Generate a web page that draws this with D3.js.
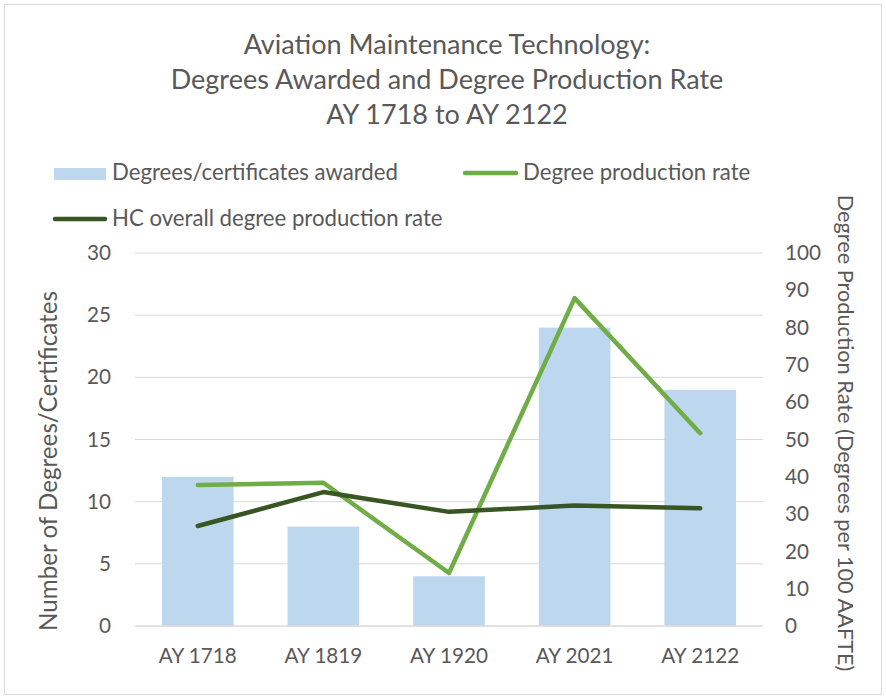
<!DOCTYPE html>
<html>
<head>
<meta charset="utf-8">
<script src="https://cdn.jsdelivr.net/npm/d3@7"></script>
<style>
  body { margin: 0; background: #fff; }
  text { font-family: Lato, "Open Sans", sans-serif; fill: #595959; }
</style>
</head>
<body>
<script>
var width = 886;
var height = 697;

// data
var years = ["AY 1718", "AY 1819", "AY 1920", "AY 2021", "AY 2122"];
var awarded = [12, 8, 4, 24, 19];
var rate = [37.8, 38.4, 14.2, 87.9, 51.7];
var hcRate = [26.8, 35.9, 30.6, 32.3, 31.6];
var leftTicks = [0, 5, 10, 15, 20, 25, 30];
var rightTicks = [0, 10, 20, 30, 40, 50, 60, 70, 80, 90, 100];
var titleLines = ["Aviation Maintenance Technology:", "Degrees Awarded and Degree Production Rate", "AY 1718 to AY 2122"];

var barColor = "#bdd7ee";
var rateColor = "#70ad47";
var hcColor = "#375623";

var plot = { left: 135, right: 763, top: 253, bottom: 626 };

var svg = d3.select("body")
    .append("svg")
    .attr("width", width)
    .attr("height", height);

// pick a font size so that a sample string spans the width seen in the reference
function fitSize(sample, target) {
    var t = svg.append("text").attr("font-size", "20px").text(sample);
    var w = t.node().getComputedTextLength();
    t.remove();
    return 20 * target / w;
}

var titleSize = fitSize(titleLines[1], 553);
var legendSize = fitSize("Degrees/certificates awarded", 286);
var tickSize = fitSize("AY 1718", 78);
var leftTitleSize = fitSize("Number of Degrees/Certificates", 340);
var rightTitleSize = fitSize("Degree Production Rate (Degrees per 100 AAFTE)", 477);

svg.append("rect")
    .attr("x", 4.5).attr("y", 4.5)
    .attr("width", 877).attr("height", 690)
    .attr("fill", "#fff")
    .attr("stroke", "#d9d9d9");

var x = d3.scaleBand()
    .domain(years)
    .range([plot.left, plot.right])
    .paddingInner(0.43)
    .paddingOuter(0.215);

var yL = d3.scaleLinear().domain([0, 30]).range([plot.bottom, plot.top]);
var yR = d3.scaleLinear().domain([0, 100]).range([plot.bottom, plot.top]);

// gridlines
svg.append("g")
    .selectAll("line")
    .data(leftTicks.slice(1))
    .enter()
    .append("line")
    .attr("x1", plot.left).attr("x2", plot.right)
    .attr("y1", function(d) { return yL(d); })
    .attr("y2", function(d) { return yL(d); })
    .attr("stroke", "#d9d9d9")
    .attr("stroke-width", 1);

// bars
svg.append("g")
    .selectAll("rect")
    .data(awarded)
    .enter()
    .append("rect")
    .attr("x", function(d, i) { return x(years[i]); })
    .attr("width", x.bandwidth())
    .attr("y", function(d) { return yL(d); })
    .attr("height", function(d) { return yL(0) - yL(d); })
    .attr("fill", barColor);

// baseline
svg.append("line")
    .attr("x1", plot.left).attr("x2", plot.right)
    .attr("y1", yL(0)).attr("y2", yL(0))
    .attr("stroke", "#d9d9d9")
    .attr("stroke-width", 1.5);

var line = d3.line()
    .x(function(d, i) { return x(years[i]) + x.bandwidth() / 2; })
    .y(function(d) { return yR(d); });

svg.append("path")
    .datum(rate)
    .attr("d", line)
    .attr("fill", "none")
    .attr("stroke", rateColor)
    .attr("stroke-width", 4.5)
    .attr("stroke-linecap", "round")
    .attr("stroke-linejoin", "round");

svg.append("path")
    .datum(hcRate)
    .attr("d", line)
    .attr("fill", "none")
    .attr("stroke", hcColor)
    .attr("stroke-width", 4.5)
    .attr("stroke-linecap", "round")
    .attr("stroke-linejoin", "round");

// axes
var leftAxis = svg.append("g")
    .attr("transform", "translate(" + plot.left + ",0)")
    .call(d3.axisLeft(yL).tickValues(leftTicks).tickSize(0).tickPadding(24));
leftAxis.select(".domain").remove();

var rightAxis = svg.append("g")
    .attr("transform", "translate(" + plot.right + ",0)")
    .call(d3.axisRight(yR).tickValues(rightTicks).tickSize(0).tickPadding(22));
rightAxis.select(".domain").remove();

var bottomAxis = svg.append("g")
    .attr("transform", "translate(0," + plot.bottom + ")")
    .call(d3.axisBottom(x).tickSize(0).tickPadding(22));
bottomAxis.select(".domain").remove();

svg.selectAll(".tick text")
    .attr("font-size", tickSize + "px")
    .attr("font-family", "Lato, 'Open Sans', sans-serif")
    .attr("fill", "#595959");

// axis titles
svg.append("text")
    .attr("transform", "translate(57,461) rotate(-90)")
    .attr("text-anchor", "middle")
    .attr("font-size", leftTitleSize + "px")
    .text("Number of Degrees/Certificates");

svg.append("text")
    .attr("transform", "translate(838,433) rotate(90)")
    .attr("text-anchor", "middle")
    .attr("font-size", rightTitleSize + "px")
    .text("Degree Production Rate (Degrees per 100 AAFTE)");

// title
svg.append("g")
    .selectAll("text")
    .data(titleLines)
    .enter()
    .append("text")
    .attr("x", 447)
    .attr("y", function(d, i) { return 54 + i * 35; })
    .attr("text-anchor", "middle")
    .attr("font-size", titleSize + "px")
    .text(function(d) { return d; });

// legend
var legend = svg.append("g").attr("font-size", legendSize + "px");
legend.append("rect")
    .attr("x", 54).attr("y", 168).attr("width", 52).attr("height", 12)
    .attr("fill", barColor);
legend.append("text").attr("x", 112).attr("y", 180).text("Degrees/certificates awarded");

legend.append("line")
    .attr("x1", 465).attr("x2", 516).attr("y1", 173).attr("y2", 173)
    .attr("stroke", rateColor).attr("stroke-width", 4.5).attr("stroke-linecap", "round");
legend.append("text").attr("x", 523).attr("y", 180).text("Degree production rate");

legend.append("line")
    .attr("x1", 55).attr("x2", 105).attr("y1", 219).attr("y2", 219)
    .attr("stroke", hcColor).attr("stroke-width", 4.5).attr("stroke-linecap", "round");
legend.append("text").attr("x", 112).attr("y", 226).text("HC overall degree production rate");
</script>
</body>
</html>
